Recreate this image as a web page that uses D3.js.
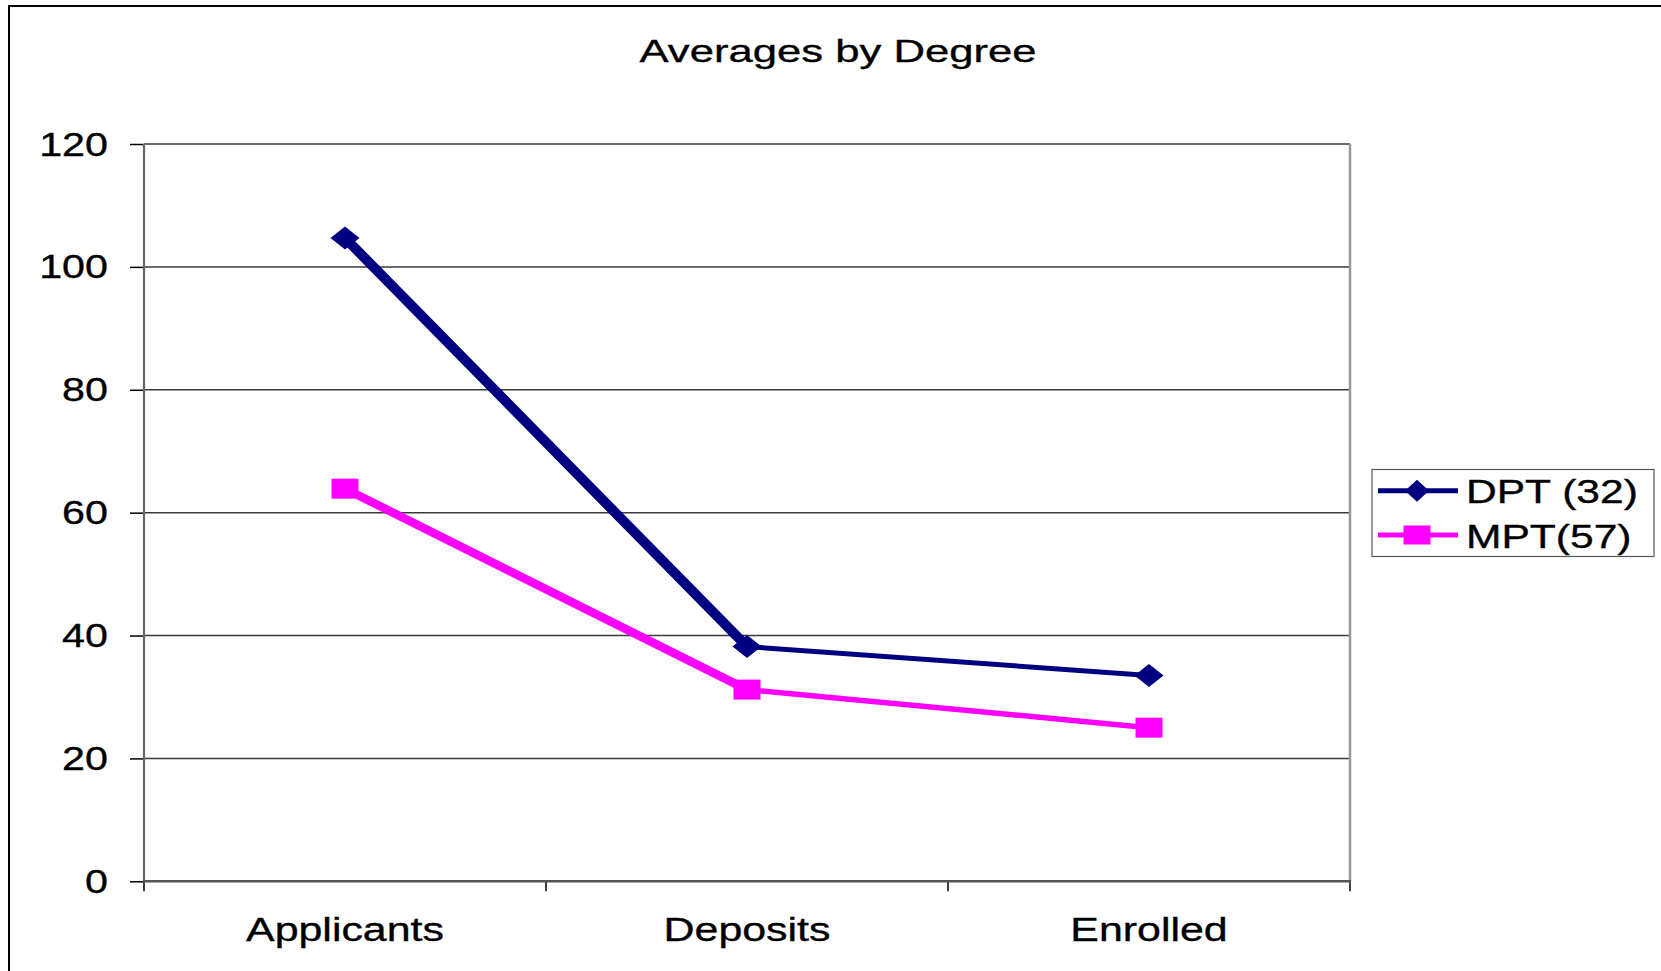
<!DOCTYPE html>
<html><head><meta charset="utf-8">
<script src="https://cdn.jsdelivr.net/npm/d3@7"></script>
<style>
body{margin:0;background:#fff}
svg{display:block}
text{font-family:"Liberation Sans",Arial,sans-serif;fill:#000;stroke:#000;stroke-width:0.35px}
</style>
</head><body>
<svg id="c" width="1661" height="971"></svg>
<script>
// ---- data ----
const chartTitle = "Averages by Degree";
const categories = ["Applicants", "Deposits", "Enrolled"];
const seriesNames = ["DPT (32)", "MPT(57)"];
const dptValues = [104.7, 38.2, 33.5];
const mptValues = [63.9, 31.2, 25.0];
const yTicks = [0, 20, 40, 60, 80, 100, 120];
const yDomain = [0, 120];

// ---- layout ----
const W = 1661, H = 971;
const plot = {left: 144, right: 1350, top: 144, bottom: 881.3};
const svg = d3.select("#c");
svg.append("rect").attr("width", W).attr("height", H).attr("fill", "#fff");
svg.append("path").attr("d", `M9,${H} V6 H${W}`)
  .attr("fill", "none").attr("stroke", "#000").attr("stroke-width", 2);

const x = d3.scaleBand().domain(categories).range([plot.left, plot.right]);
const y = d3.scaleLinear().domain(yDomain).range([plot.bottom, plot.top]);
const cx = c => x(c) + x.bandwidth() / 2;

function addText(g, str, tx, ty, size, anchor, sx) {
  return g.append("text")
    .attr("transform", `translate(${tx},${ty}) scale(${sx},1)`)
    .attr("text-anchor", anchor)
    .attr("font-size", size)
    .text(str);
}

// title
svg.append("text")
  .attr("x", 838).attr("y", 62)
  .attr("text-anchor", "middle")
  .attr("font-size", 32)
  .attr("textLength", 397).attr("lengthAdjust", "spacingAndGlyphs")
  .text(chartTitle);

// gridlines
const grid = svg.append("g");
grid.selectAll("line").data(yTicks.filter(t => t !== 0)).join("line")
  .attr("x1", plot.left).attr("x2", plot.right)
  .attr("y1", d => y(d)).attr("y2", d => y(d))
  .attr("stroke", "#3a3a3a").attr("stroke-width", 1.5);

// plot border right
svg.append("line").attr("x1", plot.right).attr("x2", plot.right)
  .attr("y1", plot.top).attr("y2", plot.bottom)
  .attr("stroke", "#999").attr("stroke-width", 2.5);

// y axis
const yAxis = d3.axisLeft(y).tickValues(yTicks).tickSize(14).tickFormat("");
const ya = svg.append("g").attr("transform", `translate(${plot.left},0)`).call(yAxis);
ya.select(".domain").remove();
ya.selectAll(".tick line").attr("stroke", "#000").attr("stroke-width", 1.5);
svg.append("line").attr("x1", plot.left).attr("x2", plot.left)
  .attr("y1", plot.top).attr("y2", plot.bottom)
  .attr("stroke", "#666").attr("stroke-width", 2.2);
yTicks.forEach(t => addText(svg, String(t), 108, y(t) + 11.6, 33, "end", 1.25));

// x axis
const bounds = categories.map(c => x(c)).concat([plot.right]);
svg.append("g").selectAll("line").data(bounds).join("line")
  .attr("x1", d => d).attr("x2", d => d)
  .attr("y1", plot.bottom).attr("y2", plot.bottom + 10)
  .attr("stroke", "#000").attr("stroke-width", 1.5);
svg.append("line").attr("x1", plot.left - 1).attr("x2", plot.right + 1)
  .attr("y1", plot.bottom).attr("y2", plot.bottom)
  .attr("stroke", "#555").attr("stroke-width", 2.6);
categories.forEach(c => addText(svg, c, cx(c), 941, 33, "middle", 1.3));

// series
const series = [
  {name: seriesNames[0], values: dptValues, color: "#000080", widths: [10, 5], marker: "diamond"},
  {name: seriesNames[1], values: mptValues, color: "#ff00ff", widths: [8.5, 5.5], marker: "square"}
];
const lineGen = d3.line().x(d => d[0]).y(d => d[1]);
const diamond = (w, h) => `M0,${-h/2} L${w/2},0 L0,${h/2} L${-w/2},0 Z`;

series.forEach(s => {
  const pts = s.values.map((v, i) => [cx(categories[i]), y(v)]);
  const g = svg.append("g");
  d3.pairs(pts).forEach((pr, i) => {
    g.append("path").attr("d", lineGen(pr))
      .attr("fill", "none").attr("stroke", s.color)
      .attr("stroke-width", s.widths[i]).attr("stroke-linecap", "butt");
  });
  pts.forEach(p => {
    if (s.marker === "diamond") {
      g.append("path").attr("d", diamond(29, 23))
        .attr("transform", `translate(${p[0]},${p[1]})`).attr("fill", s.color);
    } else {
      g.append("rect").attr("x", p[0] - 13.5).attr("y", p[1] - 10)
        .attr("width", 27).attr("height", 20).attr("fill", s.color);
    }
  });
});

// legend
const lg = svg.append("g");
lg.append("rect").attr("x", 1372).attr("y", 469.5).attr("width", 282).attr("height", 87)
  .attr("fill", "#fff").attr("stroke", "#555").attr("stroke-width", 1.2);
const legendY = [490.7, 535];
series.forEach((s, i) => {
  const ly = legendY[i];
  lg.append("line").attr("x1", 1378).attr("x2", 1458).attr("y1", ly).attr("y2", ly)
    .attr("stroke", s.color).attr("stroke-width", 5);
  if (s.marker === "diamond") {
    lg.append("path").attr("d", diamond(24, 22))
      .attr("transform", `translate(1417,${ly})`).attr("fill", s.color);
  } else {
    lg.append("rect").attr("x", 1417 - 13.5).attr("y", ly - 9.5)
      .attr("width", 27).attr("height", 19).attr("fill", s.color);
  }
  addText(lg, s.name, 1466, ly + 12.5, 33, "start", 1.29);
});
</script>
</body></html>
